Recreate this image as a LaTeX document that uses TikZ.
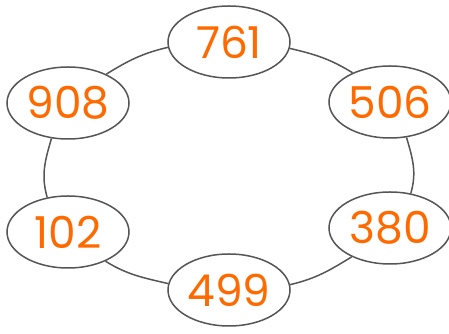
\documentclass[tikz,border=0pt]{standalone}
\usepackage{fontspec}
\setmainfont{Poppins}
\usetikzlibrary{shapes.geometric}
\definecolor{numorange}{HTML}{FF6A00}
\definecolor{ringgray}{HTML}{555555}
\tikzset{
  num/.style={ellipse, draw=ringgray, line width=0.3mm, fill=white,
    minimum width=24.4mm, minimum height=14.4mm, inner sep=0pt,
    text=numorange, font=\fontsize{25}{25}\selectfont},
  ring/.style={draw=ringgray, line width=0.3mm}
}
\begin{document}
\begin{tikzpicture}[x=0.2mm,y=0.2mm]
    \useasboundingbox (0,0) rectangle (449,334);
    \node[num] (n761) at (229,292) {761};
    \node[num] (n506) at (390,232) {506};
    \node[num] (n380) at (390,106) {380};
    \node[num] (n499) at (229,44)  {499};
    \node[num] (n102) at (68,102)  {102};
    \node[num] (n908) at (68,231)  {908};

    % ring, arc by arc
    \draw[ring] (n908.37.6)  to[out=31.6,  in=193.2] (n761.185.8);
    \draw[ring] (n761.354.2) to[out=346.8, in=148.4] (n506.142.4);
    \draw[ring] (n506.295)   to[out=286.3, in=73.7]  (n380.59);
    \draw[ring] (n499.5.8)   to[out=13.2,  in=211.6] (n380.217.6);
    \draw[ring] (n102.322.4) to[out=328.4, in=166.8] (n499.174.2);
    \draw[ring] (n908.245)   to[out=253.7, in=106.3] (n102.121);
\end{tikzpicture}
\end{document}
